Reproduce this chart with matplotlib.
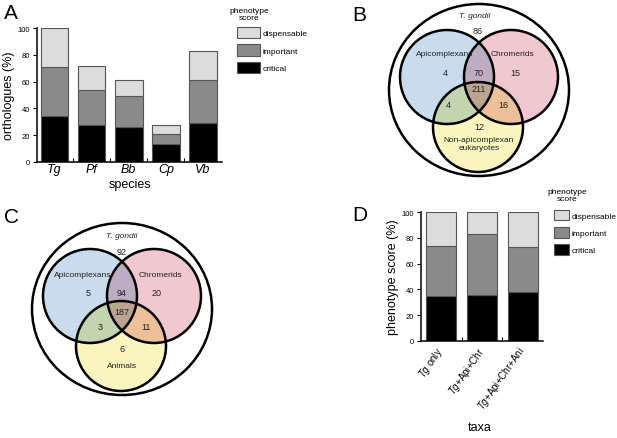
import matplotlib
matplotlib.use('Agg')
import matplotlib.pyplot as plt
import matplotlib.transforms as mtrans
import numpy as np
from matplotlib.patches import Circle, Ellipse, Patch

plt.rcParams['font.family'] = ['Liberation Sans', 'DejaVu Sans']
plt.rcParams['mathtext.fontset'] = 'custom'
plt.rcParams['mathtext.rm'] = 'Liberation Sans'
plt.rcParams['mathtext.it'] = 'Liberation Sans:italic'

# panel A data (percent of orthologues)
species = ['Tg', 'Pf', 'Bb', 'Cp', 'Vb']
a_critical = [34, 27.5, 26, 13.5, 29]
a_important = [37, 26, 23, 7.5, 32]
a_dispensable = [29, 18, 12, 6.5, 21.5]

# panel D data (percent phenotype score)
taxa = [r'$\mathit{Tg}$ only', r'$\mathit{Tg}$+Api+Chr', r'$\mathit{Tg}$+Api+Chr+Ani']
d_critical = [35, 35.5, 38]
d_important = [39, 47.5, 34.5]
d_dispensable = [26, 17, 27.5]

# venn counts: api only, api+chr, chr only, all three, api+third, chr+third, third only, outside
venn_b = [4, 70, 15, 211, 4, 16, 12, 86]
venn_c = [5, 94, 20, 187, 3, 11, 6, 92]
third_b = 'Non-apicomplexan\neukaryotes'
third_c = 'Animals'

score_labels = ['critical', 'important', 'dispensable']
score_colors = ['#000000', '#8a8a8a', '#dcdcdc']
edge = '#555555'

fig = plt.figure(figsize=(6.17, 4.39), dpi=100)


def stacked(ax, x, layers, width):
    bottom = np.zeros(len(x))
    for vals, col in zip(layers, score_colors):
        ax.bar(x, vals, width, bottom=bottom, color=col, edgecolor=edge, linewidth=0.8)
        bottom += np.array(vals)


def bar_axes_style(ax, n):
    for s in ['top', 'right']:
        ax.spines[s].set_visible(False)
    for s in ['left', 'bottom']:
        ax.spines[s].set_linewidth(1.1)
    ax.set_ylim(0, 100)
    ax.set_yticks([0, 20, 40, 60, 80, 100])
    ax.tick_params(axis='y', labelsize=5.5, length=3, width=0.8, pad=2)
    ax.set_xticks(np.arange(n))
    ax.set_xticks(np.arange(n - 1) + 0.5, minor=True)
    ax.tick_params(axis='x', which='major', length=0)
    ax.tick_params(axis='x', which='minor', direction='in', length=3, width=0.8)


def score_legend(ax, anchor, boxw, boxh, spacing, title_xy):
    handles = [Patch(facecolor=c, edgecolor=edge, linewidth=0.8) for c in score_colors]
    ax.legend(handles[::-1], score_labels[::-1], loc='upper left', bbox_to_anchor=anchor,
              bbox_transform=fig.transFigure, frameon=False, fontsize=6,
              handlelength=boxw, handleheight=boxh, labelspacing=spacing,
              handletextpad=0.3, borderaxespad=0, borderpad=0)
    fig.text(title_xy[0], title_xy[1], 'phenotype\nscore', fontsize=6, ha='center', va='top',
             linespacing=1.1)


def panel_a():
    ax = fig.add_axes([37 / 617, 1 - 163 / 439, 185 / 617, 134 / 439])
    x = np.arange(len(species))
    stacked(ax, x, [a_critical, a_important, a_dispensable], 0.74)
    bar_axes_style(ax, len(species))
    ax.set_xlim(-0.47, 4.51)
    ax.set_xticklabels(species, fontstyle='italic', fontsize=9)
    ax.tick_params(axis='x', which='major', pad=1)
    ax.set_xlabel('species', fontsize=9, labelpad=2)
    ax.set_ylabel('orthologues (%)', fontsize=9, labelpad=2)
    score_legend(ax, (237 / 617, 1 - 28 / 439), 2.8, 1.7, 0.72, (249 / 617, 1 - 8 / 439))


def panel_d():
    ax = fig.add_axes([421 / 617, 1 - 342 / 439, 122 / 617, 129 / 439])
    x = np.arange(len(taxa))
    stacked(ax, x, [d_critical, d_important, d_dispensable], 0.73)
    bar_axes_style(ax, len(taxa))
    ax.set_xlim(-0.49, 2.49)
    ax.set_xticklabels(taxa, fontsize=7, rotation=55, ha='right', va='center',
                       rotation_mode='anchor')
    shift = mtrans.ScaledTranslation(7 / 100, 0, fig.dpi_scale_trans)
    for lab in ax.get_xticklabels():
        lab.set_transform(lab.get_transform() + shift)
    ax.tick_params(axis='x', which='major', pad=5)
    ax.set_xlabel('taxa', fontsize=9)
    ax.xaxis.set_label_coords(0.48, -0.62)
    ax.set_ylabel('phenotype score (%)', fontsize=9, labelpad=2)
    score_legend(ax, (554 / 617, 1 - 211 / 439), 1.8, 1.55, 0.8, (567 / 617, 1 - 189 / 439))


# venn layout in local pixel units around the outer circle centre
circ_api = (-32, 13, 47)
circ_chr = (32, 13, 47)
circ_third = (-1, -37, 45)
col_api = np.array([200, 220, 238]) / 255
col_chr = np.array([242, 200, 208]) / 255
col_third = np.array([250, 246, 190]) / 255


def panel_venn(center, counts, third_label, pos):
    cx, cy = center
    ax = fig.add_axes([(cx - 110) / 617, (439 - cy - 95) / 439, 220 / 617, 190 / 439])
    ax.set_xlim(-110, 110)
    ax.set_ylim(-95, 95)
    ax.axis('off')

    gx, gy = np.meshgrid(np.linspace(-110, 110, 660), np.linspace(-95, 95, 570))
    rgba = np.ones(gx.shape + (4,))
    rgba[..., 3] = 0
    for (x0, y0, r), col in zip([circ_api, circ_chr, circ_third], [col_api, col_chr, col_third]):
        inside = (gx - x0) ** 2 + (gy - y0) ** 2 <= r ** 2
        rgba[inside, :3] *= col
        rgba[inside, 3] = 1
    ax.imshow(rgba, extent=(-110, 110, -95, 95), origin='lower', interpolation='bilinear')

    ax.add_patch(Ellipse((0, 0), 180, 172, fill=False, lw=1.8, ec='black'))
    for x0, y0, r in [circ_api, circ_chr, circ_third]:
        ax.add_patch(Circle((x0, y0), r, fill=False, lw=1.8, ec='black'))

    txt = dict(fontsize=6, ha='center', va='center', color='#222222')
    num = dict(txt, fontsize=6.5)
    ax.text(*pos['title'], 'T. gondii', fontstyle='italic', **txt)
    ax.text(*pos['api'], 'Apicomplexans', **txt)
    ax.text(*pos['chr'], 'Chromerids', **txt)
    ax.text(*pos['third'], third_label, linespacing=1.2, **txt)
    keys = ['n_api', 'n_apichr', 'n_chr', 'n_all', 'n_apithird', 'n_chrthird', 'n_third', 'n_out']
    for k, v in zip(keys, counts):
        ax.text(*pos[k], str(v), **num)


pos_b = {'title': (-4, 74), 'api': (-34, 36), 'chr': (33, 36), 'third': (0, -54),
         'n_api': (-34, 18), 'n_apichr': (0, 18), 'n_chr': (36, 18), 'n_all': (0, 1),
         'n_apithird': (-31, -15), 'n_chrthird': (24, -15), 'n_third': (0, -37), 'n_out': (-1, 60)}
pos_c = {'title': (0, 73), 'api': (-39, 34), 'chr': (38, 34), 'third': (0, -57),
         'n_api': (-34, 16), 'n_apichr': (0, 16), 'n_chr': (35, 16), 'n_all': (0, -3),
         'n_apithird': (-22, -18), 'n_chrthird': (24, -18), 'n_third': (0, -40), 'n_out': (0, 57)}

panel_a()
panel_d()
panel_venn((479, 91), venn_b, third_b, pos_b)
panel_venn((122, 310), venn_c, third_c, pos_c)

for letter, (px, py) in zip('ABCD', [(4, 4), (352, 6), (4, 208), (352, 206)]):
    fig.text(px / 617, 1 - py / 439, letter, fontsize=15, ha='left', va='top')

fig.savefig('out.png', dpi=100)
